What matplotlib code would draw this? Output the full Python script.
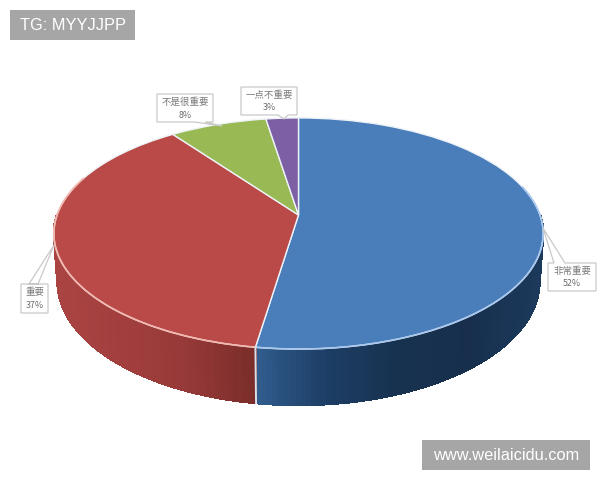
import numpy as np
import matplotlib
matplotlib.use("Agg")
import matplotlib.pyplot as plt
from matplotlib.collections import PolyCollection
from matplotlib.colors import LinearSegmentedColormap
from matplotlib.patches import Polygon
from matplotlib.path import Path
from matplotlib.transforms import Transform

plt.rcParams['font.family'] = ['Noto Sans CJK SC', 'DejaVu Sans']

categories = ["非常重要", "重要", "不是很重要", "一点不重要"]
values = [52.4, 37.6, 7.5, 2.5]
percent_labels = ["52%", "37%", "8%", "3%"]
top_colors = ["#4a7ebb", "#b94a48", "#98b954", "#7d5fa5"]
edge_colors = ["#a9c8ee", "#f2b7ae", "#e8eedd", "#e6e0ee"]

CX, CY, A, B, K = 298.5, 215.0, 241.5, 112.6, 0.16
DROP, SHRINK = 56.0, 0.985


def project(u, v):
    w = 1 + K * v
    return CX + A * u / w, CY - B * v / w


class Perspective(Transform):
    input_dims = output_dims = 2

    def transform_non_affine(self, xy):
        xy = np.asarray(xy, float)
        x, y = project(xy[:, 0], xy[:, 1])
        return np.column_stack([x, y])

    def transform_path_non_affine(self, path):
        return Path(self.transform_non_affine(path.vertices), path.codes)


fig = plt.figure(figsize=(6, 4.8), dpi=100, facecolor="white")
ax = fig.add_axes([0, 0, 1, 1])

# Side wall, in strips, behind the top face
fractions = np.cumsum([0] + values) / sum(values) * 360
wall_maps = {
    0: LinearSegmentedColormap.from_list("b", ["#315d8e", "#1d3e65", "#17324f", "#172f4d", "#1c3a5c"]),
    1: LinearSegmentedColormap.from_list("r", ["#a94442", "#a23f3e", "#963938", "#7a2d2a"]),
}
polys, cols = [], []
for idx, (lo, hi) in enumerate(zip(fractions[:-1], fractions[1:])):
    if idx not in wall_maps:
        continue
    a0, a1 = max(lo, 90), min(hi, 270)
    angs = np.linspace(a0, a1, int(a1 - a0) + 2)
    rad = np.radians(angs)
    X, Y = project(np.sin(rad), np.cos(rad))
    W = 1 + K * np.cos(rad)
    H = DROP * (1 - K) / W
    X2 = CX + (X - CX) * SHRINK
    Y2 = Y + H
    xmin, xmax = X.min(), X.max()
    for i in range(len(angs) - 1):
        polys.append([(X[i], Y[i]), (X[i + 1], Y[i + 1]), (X2[i + 1], Y2[i + 1]), (X2[i], Y2[i])])
        t = (X[i] - xmin) / (xmax - xmin)
        cols.append(wall_maps[idx](t))
ax.add_collection(PolyCollection(polys, facecolors=cols, edgecolors=cols, linewidths=1.0,
                                 antialiaseds=False, zorder=1))

# Top face
wedges, _ = ax.pie(values, startangle=90, counterclock=False, colors=top_colors, radius=1,
                   frame=False)
persp = Perspective()
for w in wedges:
    w.set_transform(persp + ax.transData)
    w.set_edgecolor("#eef3f8")
    w.set_linewidth(1.0)
    w.set_zorder(2)

# Bright rim arcs along the front
for idx in (0, 1):
    rad = np.radians(np.linspace(max(fractions[idx], 75), min(fractions[idx + 1], 290), 200))
    X, Y = project(np.sin(rad), np.cos(rad))
    ax.plot(X, Y, color=edge_colors[idx], lw=1.2, zorder=3)

# Seam on the wall between blue and red
rad = np.radians(fractions[1])
sx, sy = project(np.sin(rad), np.cos(rad))
h = DROP * (1 - K) / (1 + K * np.cos(rad))
ax.plot([sx, CX + (sx - CX) * SHRINK], [sy, sy + h], color="#d9dfe8", lw=1.4, zorder=3)

ax.set_aspect("auto")
ax.set_xlim(0, 600)
ax.set_ylim(480, 0)
ax.axis("off")

# Callouts: box (x0, y0, x1, y1), pointer base and tip
callouts = [
    ((548, 263, 596, 291), [(565, 263), (554, 263)], (543, 228)),
    ((21, 284, 48, 313), [(29, 284), (38, 284)], (54, 245)),
    ((157, 94, 213, 122), [(195, 122), (205, 122)], (222, 126)),
    ((241, 87, 297, 115), [(278, 115), (288, 115)], (284, 119)),
]
for ((x0, y0, x1, y1), base, tip), name, pct in zip(callouts, categories, percent_labels):
    if tip[1] < y0:
        pts = [(x0, y0), base[1], tip, base[0], (x1, y0), (x1, y1), (x0, y1)]
    else:
        pts = [(x0, y0), (x1, y0), (x1, y1), base[1], tip, base[0], (x0, y1)]
    ax.add_patch(Polygon(pts, closed=True, fc="white", ec="#c9c9c9", lw=0.9, zorder=4))
    xm, ym = (x0 + x1) / 2, (y0 + y1) / 2
    ax.text(xm, ym - 6, name, fontsize=6.8, color="#7a7a7a", ha="center", va="center", zorder=5)
    ax.text(xm, ym + 7, pct, fontsize=6.4, color="#6f6f6f", ha="center", va="center", zorder=5)

# Watermarks
ax.add_patch(plt.Rectangle((10, 10), 125, 30, fc="#a6a6a6", ec="none", zorder=6))
ax.text(72.5, 25.5, "TG: MYYJJPP", fontsize=11.8, color="white", ha="center", va="center",
        family=["Liberation Sans"], zorder=7)
ax.add_patch(plt.Rectangle((422, 440), 168, 30, fc="#a6a6a6", ec="none", zorder=6))
ax.text(506, 455.5, "www.weilaicidu.com", fontsize=11.8, color="white", ha="center", va="center",
        family=["Liberation Sans"], zorder=7)

fig.savefig("out.png", dpi=100, facecolor="white")
